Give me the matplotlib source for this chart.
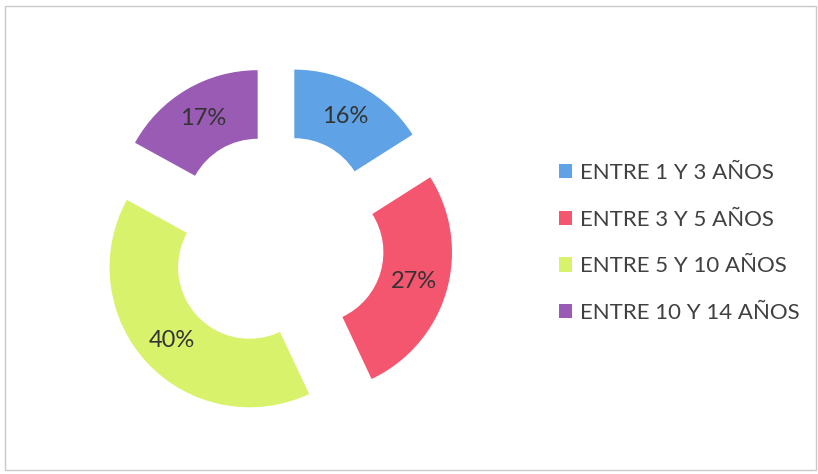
import matplotlib
matplotlib.use("Agg")
import matplotlib.pyplot as plt
from matplotlib.patches import Rectangle

# Age ranges and their share
categories = ["ENTRE 1 Y 3 AÑOS", "ENTRE 3 Y 5 AÑOS", "ENTRE 5 Y 10 AÑOS", "ENTRE 10 Y 14 AÑOS"]
shares = [16, 27, 40, 17]
colors = ["#5fa2e6", "#f4566f", "#d9f26c", "#9a5bb5"]

plt.rcParams['font.family'] = ['Lato', 'DejaVu Sans']

W, H = 818, 474
fig = plt.figure(figsize=(W / 100, H / 100), dpi=100)
ax = fig.add_axes([0, 0, 1, 1])

# exploded doughnut, clockwise from the top
wedges, texts, autotexts = ax.pie(
    shares, colors=colors, startangle=90, counterclock=False,
    radius=1.0, explode=[0.264] * len(shares),
    wedgeprops=dict(width=0.49, linewidth=0),
    autopct=lambda p: f"{p:.0f}%", pctdistance=0.76,
    textprops=dict(fontsize=17, color="#333333"))

# pixel layout: centre at (276, 242 from top), outer radius 140 px
scale = 140.0
cx, cy = 276.5, 242.0
ax.set_xlim(-cx / scale, (W - cx) / scale)
ax.set_ylim(-(H - cy) / scale, cy / scale)
ax.set_aspect("equal")
ax.axis("off")

ax.legend(wedges, categories, loc="center left",
          bbox_to_anchor=(559 / W, 1 - 243 / H), bbox_transform=fig.transFigure,
          frameon=False, fontsize=16, labelspacing=1.2,
          handlelength=0.6, handleheight=0.6, handletextpad=0.35,
          borderpad=0, borderaxespad=0, labelcolor="#404040")

# thin frame around the chart area
fig.patches.append(Rectangle((5 / W, 4 / H), 811 / W, 464 / H, transform=fig.transFigure,
                             fill=False, edgecolor="#c9c9c9", linewidth=1))

fig.savefig("out.png", dpi=100)
